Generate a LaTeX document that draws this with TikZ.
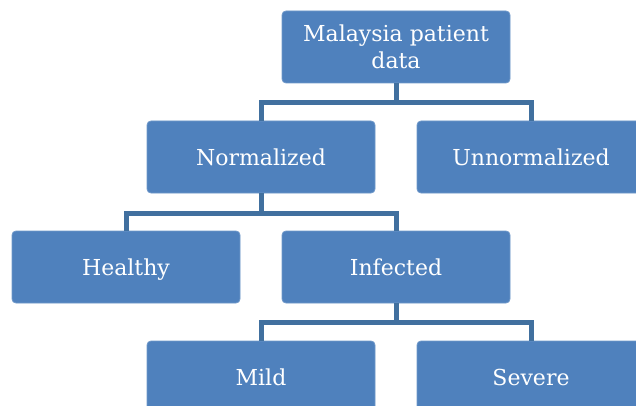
\documentclass[tikz,border=0pt]{standalone}
\usepackage{fontspec}
\setmainfont{DejaVu Serif}
\definecolor{boxfill}{HTML}{4F81BD}
\definecolor{boxline}{HTML}{6F98C9}
\definecolor{connc}{HTML}{41709F}
\begin{document}
\begin{tikzpicture}[x=1pt,y=-1pt,
  box/.style={draw=boxline,line width=0.8pt,fill=boxfill,rounded corners=4pt,
    minimum width=228pt,minimum height=72pt,inner sep=0pt,text=white,
    font=\fontsize{22}{27}\selectfont,align=center},
  onebox/.style={box,text height=18pt,text depth=2pt},
  conn/.style={draw=connc,line width=5pt}]
\useasboundingbox (0,0) rectangle (636,406);
\clip (0,0) rectangle (636,406);
\node[box] (top) at (396,47) {Malaysia patient\\data};
\node[onebox] (norm) at (261,157) {Normalized};
\node[onebox] (unnorm) at (531,157) {Unnormalized};
\node[onebox] (healthy) at (126,267) {Healthy};
\node[onebox] (infected) at (396,267) {Infected};
\node[onebox] (mild) at (261,377) {Mild};
\node[onebox] (severe) at (531,377) {Severe};
\coordinate (j1) at (396,103);
\coordinate (j2) at (261,213);
\coordinate (j3) at (396,322);
\draw[conn] (top.south) -- (j1);
\draw[conn] (norm.north) |- (j1) -| (unnorm.north);
\draw[conn] (norm.south) -- (j2);
\draw[conn] (healthy.north) |- (j2) -| (infected.north);
\draw[conn] (infected.south) -- (j3);
\draw[conn] (mild.north) |- (j3) -| (severe.north);
\end{tikzpicture}
\end{document}
